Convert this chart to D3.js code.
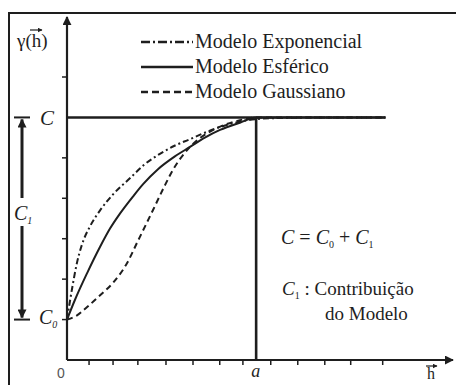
<!DOCTYPE html>
<html>
<head>
<meta charset="utf-8">
<script src="https://cdn.jsdelivr.net/npm/d3@7"></script>
<style>
  html, body { margin: 0; padding: 0; background: #fff; }
  svg { display: block; }
</style>
</head>
<body>
<svg id="chart" width="456" height="385"></svg>
<script>
// Semivariogram models: nugget C0, sill C, range a
const nugget = 1;
const sill = 6;
const rangeA = 6.86;
const hEnd = 11.55;

// Lag h vs gamma(h) for each model
const exponencialH = [0, 0.18, 0.36, 0.54, 0.83, 1.2, 1.7, 2.29, 2.8, 3.37, 3.9, 4.46, 5.1, 5.73, 6.3, 6.86, 8.0, 9.5, hEnd];
const exponencialG = [1.0, 1.75, 2.4, 2.85, 3.3, 3.7, 4.12, 4.5, 4.83, 5.1, 5.3, 5.46, 5.65, 5.8, 5.9, 5.96, 5.99, 6.0, 6.0];

const esfericoH = [0, 0.29, 0.73, 1.2, 1.56, 1.92, 2.4, 2.76, 3.3, 3.9, 4.46, 5.0, 5.55, 6.27, 6.86, 8.0, 9.5, hEnd];
const esfericoG = [1.0, 1.49, 2.15, 2.8, 3.25, 3.62, 4.05, 4.35, 4.72, 5.03, 5.27, 5.5, 5.69, 5.87, 6.0, 6.0, 6.0, 6.0];

const gaussianoH = [0, 0.35, 0.73, 1.2, 1.67, 2.18, 2.54, 3.12, 3.5, 3.84, 4.46, 5.3, 6.27, 6.86, 8.0, 9.5, hEnd];
const gaussianoG = [1.0, 1.1, 1.31, 1.6, 1.91, 2.4, 2.9, 3.71, 4.25, 4.7, 5.27, 5.69, 5.93, 6.0, 6.0, 6.0, 6.0];

// Axis ticks
const xTicks = [0.8, 1.67, 2.57, 3.59, 4.57, 5.54, 6.38, 7.39, 8.37, 9.35, 10.29, 11.45];
const yTicks = [1, 2, 3, 4, 5, 7];

const legendNames = ["Modelo Exponencial", "Modelo Esférico", "Modelo Gaussiano"];
const dashes = ["9,3,2,3", null, "7,4"];

const svg = d3.select("#chart");
const ink = "#1e1e1e";
const serif = "Liberation Serif";

const x = d3.scaleLinear().domain([0, 14]).range([67, 453]);
const y = d3.scaleLinear().domain([0, 7]).range([360, 77]);

// Frame
svg.append("rect")
  .attr("x", 9).attr("y", 13).attr("width", 460).attr("height", 400)
  .attr("fill", "none").attr("stroke", ink).attr("stroke-width", 2);

// Arrow markers
const defs = svg.append("defs");
function marker(id, size) {
  defs.append("marker")
    .attr("id", id).attr("viewBox", "0 0 10 10")
    .attr("refX", 9).attr("refY", 5)
    .attr("markerWidth", size).attr("markerHeight", size)
    .attr("markerUnits", "userSpaceOnUse")
    .attr("orient", "auto")
    .append("path").attr("d", "M0,0 L10,5 L0,10 Z").attr("fill", ink);
}
marker("tip", 9);
marker("tipS", 5);

// Axes
svg.append("line")
  .attr("x1", x(0)).attr("y1", y(0)).attr("x2", x(14)).attr("y2", y(0))
  .attr("stroke", ink).attr("stroke-width", 2.2).attr("marker-end", "url(#tip)");
svg.append("line")
  .attr("x1", x(0)).attr("y1", y(0)).attr("x2", x(0)).attr("y2", 17)
  .attr("stroke", ink).attr("stroke-width", 2.2).attr("marker-end", "url(#tip)");

svg.selectAll(".xt").data(xTicks).join("line")
  .attr("x1", d => x(d)).attr("x2", d => x(d))
  .attr("y1", y(0)).attr("y2", y(0) + 5)
  .attr("stroke", ink).attr("stroke-width", 1.5);

svg.selectAll(".yt").data(yTicks).join("line")
  .attr("x1", x(0) - 5).attr("x2", x(0))
  .attr("y1", d => y(d)).attr("y2", d => y(d))
  .attr("stroke", ink).attr("stroke-width", 1.5);

// Sill and range guide lines
svg.append("line")
  .attr("x1", x(0)).attr("x2", x(hEnd)).attr("y1", y(sill)).attr("y2", y(sill))
  .attr("stroke", ink).attr("stroke-width", 2.6);
svg.append("line")
  .attr("x1", x(rangeA)).attr("x2", x(rangeA)).attr("y1", y(sill)).attr("y2", y(0))
  .attr("stroke", ink).attr("stroke-width", 2.6);

// Model curves
const line = d3.line().x(d => x(d[0])).y(d => y(d[1])).curve(d3.curveMonotoneX);
const series = [
  d3.zip(exponencialH, exponencialG),
  d3.zip(esfericoH, esfericoG),
  d3.zip(gaussianoH, gaussianoG)
];
const curveDash = ["6,3,2,3", null, "6,4"];
series.forEach((pts, i) => {
  svg.append("path").datum(pts)
    .attr("d", line)
    .attr("fill", "none").attr("stroke", ink).attr("stroke-width", 2)
    .attr("stroke-dasharray", curveDash[i]);
});

// Labels
function label(xp, yp, size) {
  return svg.append("text").attr("x", xp).attr("y", yp)
    .attr("font-family", serif).attr("fill", ink).attr("font-size", size);
}
function subLabel(xp, yp, base, sub, size) {
  const t = label(xp, yp, size).attr("font-style", "italic");
  t.append("tspan").text(base);
  t.append("tspan").attr("font-size", size * 0.5).attr("dy", 4).text(sub);
  return t;
}

// Legend
const legY = [42, 67, 92];
legendNames.forEach((name, i) => {
  svg.append("line")
    .attr("x1", 141).attr("x2", 193).attr("y1", legY[i]).attr("y2", legY[i])
    .attr("stroke", ink).attr("stroke-width", 2.6)
    .attr("stroke-dasharray", dashes[i]);
  label(195, legY[i] + 6, 20).text(name);
});

// Vertical arrow spanning the model contribution C1
const arrX = 22;
[y(sill), y(nugget)].forEach(v => {
  svg.append("line").attr("x1", 14).attr("x2", 30).attr("y1", v).attr("y2", v)
    .attr("stroke", ink).attr("stroke-width", 2);
});
svg.append("line").attr("x1", arrX).attr("x2", arrX)
  .attr("y1", 198).attr("y2", y(sill) + 2)
  .attr("stroke", ink).attr("stroke-width", 3).attr("marker-end", "url(#tip)");
svg.append("line").attr("x1", arrX).attr("x2", arrX)
  .attr("y1", 226).attr("y2", y(nugget) - 2)
  .attr("stroke", ink).attr("stroke-width", 3).attr("marker-end", "url(#tip)");

label(40, 125, 21).attr("font-style", "italic").text("C");
subLabel(39, 324, "C", "0", 20);
subLabel(14, 220, "C", "1", 20);

// gamma(h) label with vector arrow over h
label(17, 47, 19).text("γ(h)");
svg.append("line").attr("x1", 30).attr("x2", 42).attr("y1", 30).attr("y2", 30)
  .attr("stroke", ink).attr("stroke-width", 1.2).attr("marker-end", "url(#tipS)");

label(57, 378, 14).attr("font-family", "Liberation Sans")
  .attr("fill", "#555").text("0");
label(x(rangeA) - 5, 377, 18).attr("font-style", "italic").text("a");
label(427, 379, 16).text("h");
svg.append("line").attr("x1", 426).attr("x2", 437).attr("y1", 366).attr("y2", 366)
  .attr("stroke", ink).attr("stroke-width", 1.2).attr("marker-end", "url(#tipS)");

// Formula and note
const f = label(281, 244, 20);
f.append("tspan").attr("font-style", "italic").text("C");
f.append("tspan").text(" = ");
f.append("tspan").attr("font-style", "italic").text("C");
f.append("tspan").attr("font-size", 10).attr("dy", 4).text("0");
f.append("tspan").attr("dy", -4).text(" + ");
f.append("tspan").attr("font-style", "italic").text("C");
f.append("tspan").attr("font-size", 10).attr("dy", 4).text("1");

const n = label(282, 295, 19);
n.append("tspan").attr("font-style", "italic").text("C");
n.append("tspan").attr("font-size", 10).attr("dy", 4).text("1");
n.append("tspan").attr("dy", -4).text(" : Contribuição");
label(325, 320, 19).text("do Modelo");
</script>
</body>
</html>
